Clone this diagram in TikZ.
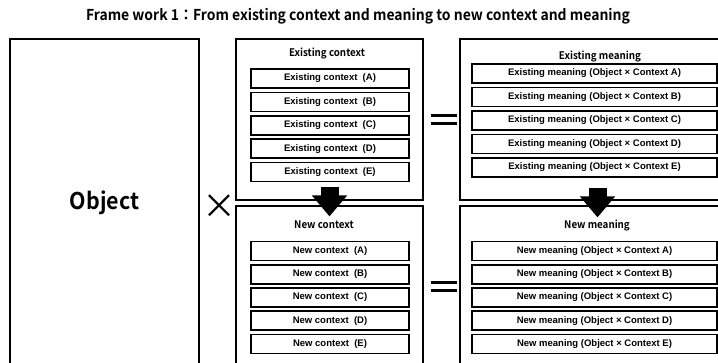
\documentclass[tikz,border=0pt]{standalone}
\usepackage{fontspec}
\setmainfont{Liberation Sans}
\newfontfamily\headfont[FakeStretch=0.93]{Noto Sans CJK JP Bold}
\newfontfamily\crossfont{Noto Sans CJK JP}
\usetikzlibrary{arrows.meta}
\begin{document}
\begin{tikzpicture}[x=1pt, y=-1pt,
	outerbox/.style={draw, line width=1.2pt, inner sep=0pt},
	itembox/.style={draw, line width=1.6pt, inner sep=0pt, minimum height=19,
		font=\bfseries\fontsize{9.5}{11}\selectfont},
	heading/.style={font=\headfont\fontsize{10.5}{12}\selectfont},
	bigarrow/.style={line width=18pt, -{Triangle[width=34pt,length=21pt]}},
	eqline/.style={line width=2.6pt}]
	\useasboundingbox (0,0) rectangle (718,362);
	\clip (0,0) rectangle (718,362);
	% title
	\node[font=\headfont\fontsize{15}{17}\selectfont] (title) at (358,16)
		{Frame work 1：From existing context and meaning to new context and meaning};
	% outer boxes
	\node[outerbox, minimum width=189, minimum height=328,
		font=\headfont\fontsize{23}{26}\selectfont] (object) at (104.5,203) {Object};
	\node[outerbox, minimum width=187, minimum height=161] (ctx) at (329.5,119.5) {};
	\node[outerbox, minimum width=187, minimum height=161] (newctx) at (329.5,286.5) {};
	\node[outerbox, minimum width=275, minimum height=161] (mean) at (597.5,119.5) {};
	\node[outerbox, minimum width=275, minimum height=161] (newmean) at (597.5,286.5) {};
	\node[font=\crossfont\fontsize{34}{34}\selectfont] (times) at (219.5,207) {×};
	% headings
	\node[heading] (ctxhead) at (327,54) {Existing context};
	\node[heading] (newctxhead) at (324,225) {New context};
	\node[heading] (meanhead) at (600,57) {Existing meaning};
	\node[heading] (newmeanhead) at (597,226) {New meaning};
	% items
	\foreach \l [count=\i from 0] in {A,B,C,D,E} {
		\node[itembox, minimum width=158] (ctx\l) at (330,78.5+23.4*\i) {Existing context\ \ (\l)};
		\node[itembox, minimum width=158] (newctx\l) at (330,251+23.25*\i) {New context\ \ (\l)};
		\node[itembox, minimum width=245] (mean\l) at (594.5,73.5+23.5*\i) {Existing meaning (Object × Context \l)};
		\node[itembox, minimum width=245] (newmean\l) at (594.5,251+23.25*\i) {New meaning (Object × Context \l)};
	}
	% arrows and equal signs
	\draw[bigarrow] ([yshift=14]ctx.south) -- ([yshift=-11]newctx.north);
	\draw[bigarrow] ([yshift=13]mean.south) -- ([yshift=-12]newmean.north);
	\draw[eqline] ([xshift=7,yshift=4]ctx.east) -- ([xshift=-2,yshift=4]mean.west);
	\draw[eqline] ([xshift=7,yshift=-4]ctx.east) -- ([xshift=-2,yshift=-4]mean.west);
	\draw[eqline] ([xshift=7,yshift=4]newctx.east) -- ([xshift=-2,yshift=4]newmean.west);
	\draw[eqline] ([xshift=7,yshift=-4]newctx.east) -- ([xshift=-2,yshift=-4]newmean.west);
\end{tikzpicture}
\end{document}
